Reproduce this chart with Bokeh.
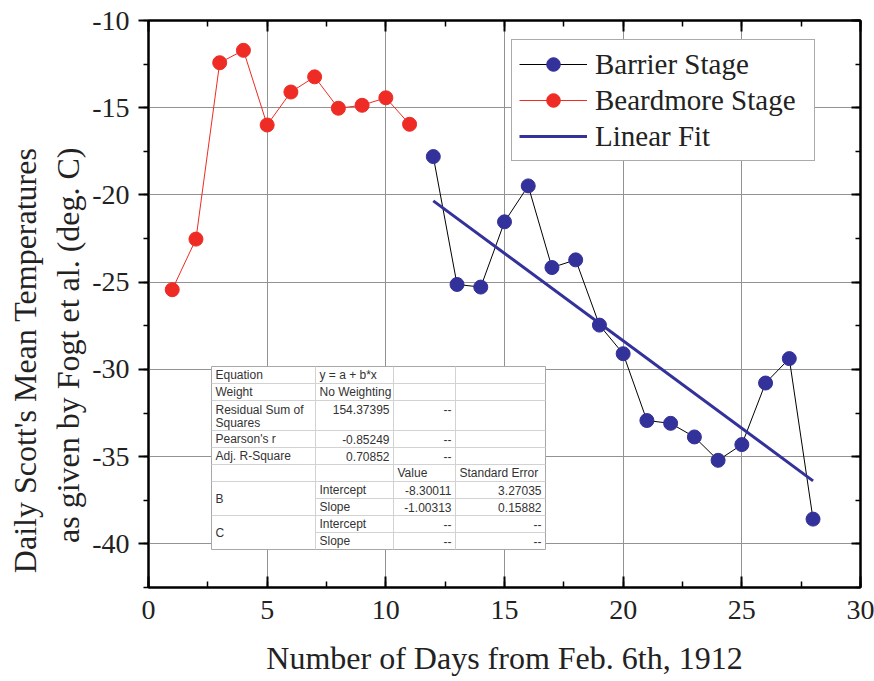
from bokeh.plotting import figure
from bokeh.models import (SingleIntervalTicker, LinearAxis, Legend, LegendItem, Title,
                          CustomJSTickFormatter)
from bokeh.embed import file_html
from bokeh.resources import INLINE
from bokeh.core.properties import value

# ---------------- data ----------------
beardmore_days = [1, 2, 3, 4, 5, 6, 7, 8, 9, 10, 11]
beardmore_temp = [-25.43, -22.53, -12.42, -11.71, -15.99, -14.10, -13.23,
                  -15.03, -14.86, -14.43, -15.95]
barrier_days = [12, 13, 14, 15, 16, 17, 18, 19, 20, 21, 22, 23, 24, 25, 26, 27, 28]
barrier_temp = [-17.80, -25.13, -25.28, -21.54, -19.48, -24.16, -23.72, -27.46,
                -29.10, -32.93, -33.09, -33.87, -35.21, -34.31, -30.78, -29.38, -38.58]
fit_intercept = -8.30011
fit_slope = -1.00313

x_range = (0, 30)
y_range = (-42.5, -10)
x_label = "Number of Days from Feb. 6th, 1912"
y_label_1 = "Daily Scott's Mean Temperatures"
y_label_2 = "as given by Fogt et al. (deg. C)"

table_col1 = ["Equation", "Weight", "Residual Sum of\nSquares", "Pearson's r",
              "Adj. R-Square", "", "B", "C"]
table_cells = [
    # (row index, col, text, align)
    (0, 1, "y = a + b*x", "left"),
    (1, 1, "No Weighting", "left"),
    (2, 1, "154.37395", "right"), (2, 2, "--", "right"),
    (3, 1, "-0.85249", "right"), (3, 2, "--", "right"),
    (4, 1, "0.70852", "right"), (4, 2, "--", "right"),
    (5, 2, "Value", "left"), (5, 3, "Standard Error", "left"),
    (6, 1, "Intercept", "left"), (6, 2, "-8.30011", "right"), (6, 3, "3.27035", "right"),
    (7, 1, "Slope", "left"), (7, 2, "-1.00313", "right"), (7, 3, "0.15882", "right"),
    (8, 1, "Intercept", "left"), (8, 2, "--", "right"), (8, 3, "--", "right"),
    (9, 1, "Slope", "left"), (9, 2, "--", "right"), (9, 3, "--", "right"),
]

# ---------------- figure ----------------
FW, FH = 712, 567
SERIF = "Liberation Serif"
SANS = "Liberation Sans"
RED = "#EE2B24"
BLUE = "#33319A"
TXT = "#222222"

p = figure(x_range=x_range, y_range=y_range, frame_width=FW, frame_height=FH,
           output_backend="svg", toolbar_location=None,
           min_border_left=148, min_border_right=14, min_border_top=20, min_border_bottom=93)
p.background_fill_color = "white"
p.border_fill_color = "white"
p.outline_line_color = "black"
p.outline_line_width = 2

int_fmt = CustomJSTickFormatter(code="return tick.toFixed(0);")
blank_fmt = CustomJSTickFormatter(code="return '';")

def mk_ticker():
    return SingleIntervalTicker(interval=5, num_minor_ticks=2)

xa = p.xaxis[0]
xa.ticker = mk_ticker()
ya = p.yaxis[0]
ya.ticker = mk_ticker()

for ax in (xa, ya):
    ax.formatter = int_fmt
    ax.axis_line_width = 2
    ax.axis_line_color = "black"
    ax.major_tick_line_width = 2
    ax.minor_tick_line_width = 1.5
    ax.major_tick_line_color = "black"
    ax.minor_tick_line_color = "black"
    ax.major_label_text_font = SERIF
    ax.major_label_text_font_size = "28px"
    ax.major_label_text_color = TXT

xa.major_tick_in = 11
xa.major_tick_out = 0
xa.minor_tick_in = 6
xa.minor_tick_out = 0
xa.major_label_standoff = 13
xa.axis_label = x_label
xa.axis_label_text_font = SERIF
xa.axis_label_text_font_size = "32px"
xa.axis_label_text_font_style = "normal"
xa.axis_label_text_color = TXT
xa.axis_label_standoff = 18

ya.major_tick_in = 0
ya.major_tick_out = 10
ya.minor_tick_in = 0
ya.minor_tick_out = 5
ya.major_label_standoff = 9

# mirror axes (top / right) with inward ticks, no labels
top_ax = LinearAxis(ticker=mk_ticker(), formatter=blank_fmt,
                    major_label_text_font_size="8px", major_label_standoff=0,
                    major_tick_in=11, major_tick_out=0, minor_tick_in=6, minor_tick_out=0,
                    axis_line_width=2, major_tick_line_width=2, minor_tick_line_width=1.5)
right_ax = LinearAxis(ticker=mk_ticker(), formatter=blank_fmt,
                      major_label_text_font_size="8px", major_label_standoff=0,
                      major_tick_in=9, major_tick_out=0, minor_tick_in=5, minor_tick_out=0,
                      axis_line_width=2, major_tick_line_width=2, minor_tick_line_width=1.5)
p.add_layout(top_ax, "above")
p.add_layout(right_ax, "right")

# two-line y label as left titles (top aligned)
t2 = Title(text=y_label_2, align="right", offset=127, standoff=7,
           text_font=SERIF, text_font_size="32px", text_font_style="normal",
           text_color=TXT)
t1 = Title(text=y_label_1, align="right", offset=127, standoff=3,
           text_font=SERIF, text_font_size="32px", text_font_style="normal",
           text_color=TXT)
p.add_layout(t2, "left")
p.add_layout(t1, "left")

# grid
for g in (p.xgrid[0], p.ygrid[0]):
    g.grid_line_color = "#929292"
    g.grid_line_width = 1
p.xgrid[0].ticker = mk_ticker()
p.ygrid[0].ticker = mk_ticker()

# ---------------- series ----------------
bar_line = p.line(barrier_days, barrier_temp, line_color="black", line_width=1)
bar_pts = p.scatter(barrier_days, barrier_temp, size=14, fill_color=BLUE, line_color=BLUE)
bea_line = p.line(beardmore_days, beardmore_temp, line_color=RED, line_width=1)
bea_pts = p.scatter(beardmore_days, beardmore_temp, size=14, fill_color=RED, line_color=RED)

fit_x = [barrier_days[0], barrier_days[-1]]
fit_y = [fit_intercept + fit_slope * v for v in fit_x]
fit_line = p.line(fit_x, fit_y, line_color=BLUE, line_width=3)

legend = Legend(items=[
    LegendItem(label="Barrier Stage", renderers=[bar_line, bar_pts]),
    LegendItem(label="Beardmore Stage", renderers=[bea_line, bea_pts]),
    LegendItem(label="Linear Fit", renderers=[fit_line]),
], location=(363, 426))
legend.label_text_font = SERIF
legend.label_text_font_size = "29px"
legend.label_text_color = TXT
legend.glyph_width = 68
legend.glyph_height = 34
legend.label_standoff = 8
legend.label_width = 212
legend.padding = 7
legend.spacing = 2
legend.margin = 0
legend.border_line_color = "#555555"
legend.border_line_width = 1
legend.background_fill_alpha = 1.0
p.add_layout(legend, "center")

# ---------------- statistics table (positioned in frame pixels) ----------------
sx = (x_range[1] - x_range[0]) / FW
sy = (y_range[1] - y_range[0]) / FH
def X(px):
    return x_range[0] + px * sx
def Y(py):  # py measured downward from frame top
    return y_range[1] - py * sy

T_LEFT, T_TOP = 63, 346
col_w = [104, 78, 62, 90]
row_h = [17, 17, 30, 17, 17, 17, 17, 17, 17, 17]
col_edges = [T_LEFT]
for w in col_w:
    col_edges.append(col_edges[-1] + w)
row_edges = [T_TOP]
for h in row_h:
    row_edges.append(row_edges[-1] + h)

p.quad(left=X(col_edges[0]), right=X(col_edges[-1]), top=Y(row_edges[0]),
       bottom=Y(row_edges[-1]), fill_color="white", line_color="#a8a8a8", line_width=1)

vx = [X(c) for c in col_edges[1:-1]]
p.segment(x0=vx, x1=vx, y0=[Y(row_edges[0])] * 3, y1=[Y(row_edges[-1])] * 3,
          line_color="#d2d2d2", line_width=1)
hx0, hy = [], []
for i, e in enumerate(row_edges[1:-1], start=1):
    hx0.append(X(col_edges[1]) if i in (7, 9) else X(col_edges[0]))
    hy.append(Y(e))
p.segment(x0=hx0, x1=[X(col_edges[-1])] * len(hy), y0=hy, y1=hy,
          line_color="#d2d2d2", line_width=1)

def row_y(r, k=0):
    if r == 2:
        return row_edges[r] + 9 + 13 * k
    return (row_edges[r] + row_edges[r + 1]) / 2

lx, ly, lt, rx, ry, rt = [], [], [], [], [], []
first_rows = [0, 1, 2, 3, 4, 5, 6, 8]
for txt, r in zip(table_col1, first_rows):
    for k, line in enumerate(txt.split("\n")):
        if not line:
            continue
        yy = row_edges[r + 1] if r in (6, 8) else row_y(r, k)
        lx.append(X(col_edges[0] + 4)); ly.append(Y(yy)); lt.append(line)
for r, c, txt, al in table_cells:
    yy = row_y(r)
    if al == "left":
        lx.append(X(col_edges[c] + 4)); ly.append(Y(yy)); lt.append(txt)
    else:
        rx.append(X(col_edges[c + 1] - 4)); ry.append(Y(yy)); rt.append(txt)
p.text(x=lx, y=ly, text=lt, text_font=value(SANS), text_font_size="12px",
       text_color="#333333", text_baseline="middle", text_align="left")
p.text(x=rx, y=ry, text=rt, text_font=value(SANS), text_font_size="12px",
       text_color="#333333", text_baseline="middle", text_align="right")

open("out.html", "w").write(file_html(p, INLINE))
